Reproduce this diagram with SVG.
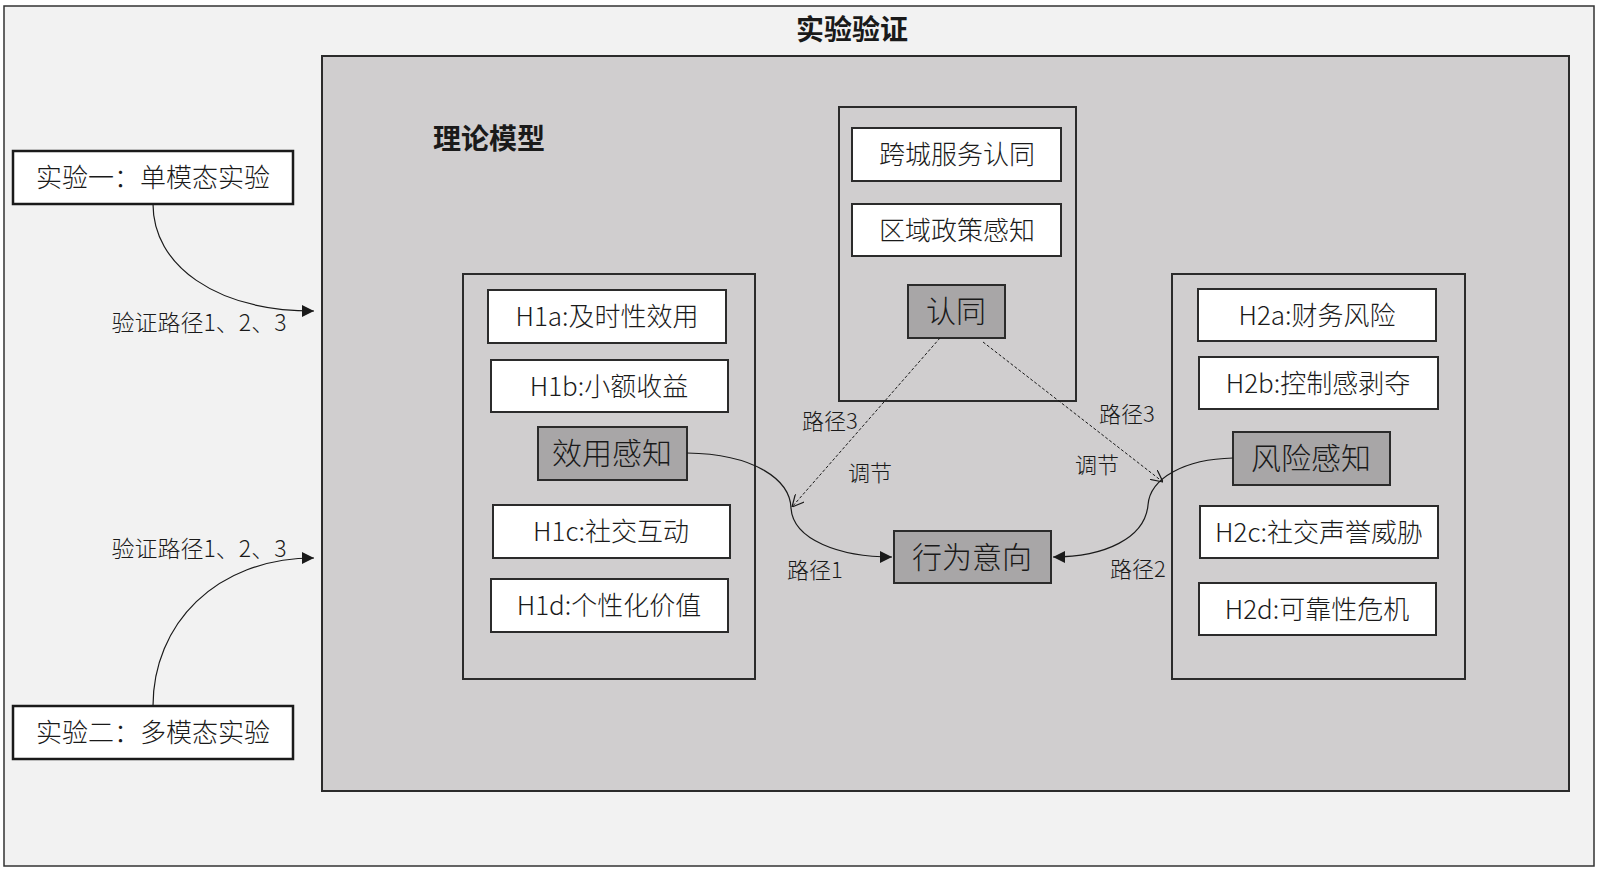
<svg xmlns="http://www.w3.org/2000/svg" width="1600" height="872" viewBox="0 0 1600 872">
<defs>
<style>
text{font-family:"Noto Sans CJK SC","Noto Sans",sans-serif;fill:#1a1a1a;text-anchor:middle;dominant-baseline:central;font-weight:300}
.frame{fill:#f2f2f2;stroke:#333;stroke-width:1.5}
.model{fill:#d0cecf;stroke:#2b2b2b;stroke-width:2}
.grp{fill:none;stroke:#2b2b2b;stroke-width:2}
.box{fill:#fff;stroke:#2b2b2b;stroke-width:2}
.exp{fill:#fff;stroke:#1a1a1a;stroke-width:2.5}
.core{fill:#a8a6a7;stroke:#2b2b2b;stroke-width:2}
.t26{font-size:26px}
.t30{font-size:30px}
.lbl{font-size:22px}
.vl{font-size:23px}
.head{font-size:28px;font-weight:bold}
.solid{fill:none;stroke:#1a1a1a;stroke-width:1.2}
.dash{fill:none;stroke:#1a1a1a;stroke-width:1;stroke-dasharray:3 2}
</style>
<marker id="tri" viewBox="0 0 10 10" refX="10" refY="5" markerWidth="12" markerHeight="12" markerUnits="userSpaceOnUse" orient="auto">
<path d="M0,0 L10,5 L0,10 z" fill="#1a1a1a"/>
</marker>
<marker id="vee" viewBox="0 0 10 10" refX="10" refY="5" markerWidth="12" markerHeight="12" markerUnits="userSpaceOnUse" orient="auto">
<path d="M0,0 L10,5 L0,10" fill="none" stroke="#1a1a1a" stroke-width="1"/>
</marker>
</defs>

<g id="frame">
<rect class="frame" x="4" y="6" width="1590" height="860"/>
<text class="head" x="852" y="28">实验验证</text>
</g>

<g id="model">
<rect class="model" x="322" y="56" width="1247" height="735"/>
<text class="head" x="489" y="137">理论模型</text>
</g>

<g id="exp1">
<rect class="exp" x="13" y="151" width="280" height="53"/>
<text class="t26" x="153" y="175">实验一：单模态实验</text>
</g>
<g id="exp2">
<rect class="exp" x="13" y="706" width="280" height="53"/>
<text class="t26" x="153" y="730">实验二：多模态实验</text>
</g>

<g id="utility-group">
<rect class="grp" x="463" y="274" width="292" height="405"/>
</g>
<g id="h1a"><rect class="box" x="488" y="290" width="238" height="53"/><text class="t26" x="607" y="314">H1a:及时性效用</text></g>
<g id="h1b"><rect class="box" x="491" y="360" width="237" height="52"/><text class="t26" x="609" y="384">H1b:小额收益</text></g>
<g id="utility"><rect class="core" x="538" y="427" width="149" height="53"/><text class="t30" x="612" y="451">效用感知</text></g>
<g id="h1c"><rect class="box" x="493" y="505" width="237" height="53"/><text class="t26" x="611" y="529">H1c:社交互动</text></g>
<g id="h1d"><rect class="box" x="491" y="579" width="237" height="53"/><text class="t26" x="609" y="603">H1d:个性化价值</text></g>

<g id="identity-group">
<rect class="grp" x="839" y="107" width="237" height="294"/>
</g>
<g id="cross-city"><rect class="box" x="852" y="128" width="209" height="53"/><text class="t26" x="957" y="152">跨城服务认同</text></g>
<g id="policy"><rect class="box" x="852" y="204" width="209" height="52"/><text class="t26" x="957" y="228">区域政策感知</text></g>
<g id="identity"><rect class="core" x="908" y="285" width="97" height="53"/><text class="t30" x="956" y="309">认同</text></g>

<g id="risk-group">
<rect class="grp" x="1172" y="274" width="293" height="405"/>
</g>
<g id="h2a"><rect class="box" x="1198" y="289" width="238" height="52"/><text class="t26" x="1317" y="313">H2a:财务风险</text></g>
<g id="h2b"><rect class="box" x="1199" y="357" width="239" height="52"/><text class="t26" x="1318" y="381">H2b:控制感剥夺</text></g>
<g id="risk"><rect class="core" x="1233" y="432" width="157" height="53"/><text class="t30" x="1311" y="456">风险感知</text></g>
<g id="h2c"><rect class="box" x="1200" y="506" width="238" height="52"/><text class="t26" x="1319" y="530">H2c:社交声誉威胁</text></g>
<g id="h2d"><rect class="box" x="1199" y="583" width="237" height="52"/><text class="t26" x="1317" y="607">H2d:可靠性危机</text></g>

<g id="intention"><rect class="core" x="894" y="531" width="157" height="52"/><text class="t30" x="972" y="555">行为意向</text></g>

<g id="connectors">
<path class="solid" d="M153,204 C153,265 215,311 314,311" marker-end="url(#tri)"/>
<path class="solid" d="M153,706 C153,625 215,558 314,558" marker-end="url(#tri)"/>
<path class="solid" d="M687,453 C755,454 790,480 791,508 C793,540 840,557 892,557" marker-end="url(#tri)"/>
<path class="solid" d="M1233,458 C1185,459 1150,478 1148,505 C1145,538 1105,557 1053,557" marker-end="url(#tri)"/>
<path class="dash" d="M940,338 L792,507" marker-end="url(#vee)"/>
<path class="dash" d="M983,342 L1163,482" marker-end="url(#vee)"/>
<text class="vl" x="199" y="321">验证路径1、2、3</text>
<text class="vl" x="199" y="547">验证路径1、2、3</text>
<text class="lbl" x="830" y="419">路径3</text>
<text class="lbl" x="870" y="471">调节</text>
<text class="lbl" x="815" y="568">路径1</text>
<text class="lbl" x="1127" y="412">路径3</text>
<text class="lbl" x="1097" y="463">调节</text>
<text class="lbl" x="1138" y="567">路径2</text>
</g>
</svg>
